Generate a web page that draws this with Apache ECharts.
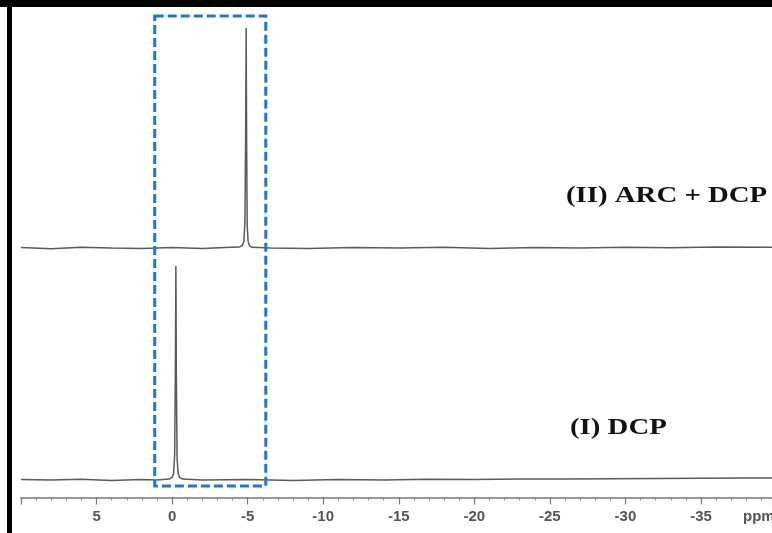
<!DOCTYPE html>
<html>
<head>
<meta charset="utf-8">
<script src="https://cdn.jsdelivr.net/npm/echarts@6/dist/echarts.min.js"></script>
<style>
html,body{margin:0;padding:0;background:#fff;}
#chart{width:772px;height:533px;}
</style>
</head>
<body>
<div id="chart"></div>
<script>
// ppm axis (left edge 10 ppm, right edge -39.7 ppm)
var ppmMin = -39.7;
var ppmMax = 10;
var tickLabels = ['5', '0', '-5', '-10', '-15', '-20', '-25', '-30', '-35'];

// (II) ARC + DCP, [ppm, relative intensity]
var arcDcp = [
  [10, 0.002], [8, -0.003], [6, 0.003], [4, 0], [2, -0.002], [0, 0.002],
  [-2, -0.002], [-3.5, 0.002], [-4.45, 0.004], [-4.65, 0.012], [-4.75, 0.03],
  [-4.82, 0.12], [-4.87, 0.55], [-4.9, 1.0], [-4.93, 0.5], [-4.97, 0.1],
  [-5.03, 0.03], [-5.12, 0.01], [-5.3, 0.003], [-6.5, 0], [-9, -0.002],
  [-12, 0.002], [-15, 0], [-18, 0.003], [-21, -0.002], [-24, 0.002],
  [-27, 0], [-30, 0.003], [-33, 0.001], [-36, 0.004], [-39.7, 0.003]
];

// (I) DCP
var dcp = [
  [10, 0.002], [8, 0], [6, 0.003], [4, -0.002], [2, 0.002], [1, 0],
  [0.2, 0.004], [0.0, 0.012], [-0.1, 0.03], [-0.17, 0.12], [-0.22, 0.55],
  [-0.25, 1.0], [-0.28, 0.5], [-0.33, 0.1], [-0.4, 0.03], [-0.5, 0.012],
  [-0.7, 0.004], [-2, 0], [-5, 0.002], [-8, -0.002], [-11, 0.002], [-14, 0],
  [-17, 0.003], [-20, 0.002], [-23, 0.004], [-26, 0.005], [-29, 0.006],
  [-32, 0.007], [-35, 0.008], [-38, 0.009], [-39.7, 0.009]
];

// highlighted region
var boxFrom = 1.15;
var boxTo = -6.2;

var lineColor = '#5a5a5a';

var chart = echarts.init(document.getElementById('chart'));

var option = {
  backgroundColor: '#fff',
  animation: false,
  grid: [
    { left: 21, top: 28, right: 0, height: 231 },
    { left: 21, top: 266, right: 0, height: 231.5 }
  ],
  xAxis: [
    {
      gridIndex: 0, type: 'value', min: ppmMin, max: ppmMax, inverse: true,
      show: false
    },
    {
      gridIndex: 1, type: 'value', min: ppmMin, max: ppmMax, inverse: true,
      splitNumber: 10, minInterval: 5, maxInterval: 5,
      axisLine: { show: true, onZero: false, lineStyle: { color: '#777', width: 1.5 } },
      axisTick: { show: true, length: 7, lineStyle: { color: '#777', width: 1.2 } },
      minorTick: { show: true, splitNumber: 5, length: 3, lineStyle: { color: '#888', width: 1 } },
      splitLine: { show: false },
      axisLabel: {
        margin: 12,
        color: '#555',
        fontFamily: 'Liberation Sans',
        fontWeight: 'bold',
        fontSize: 15,
        showMinLabel: false,
        showMaxLabel: false,
        formatter: function (v) {
          var s = String(v);
          return tickLabels.indexOf(s) >= 0 ? s : '';
        }
      }
    }
  ],
  yAxis: [
    { gridIndex: 0, type: 'value', min: -0.05, max: 1, show: false },
    { gridIndex: 1, type: 'value', min: -0.082, max: 1, show: false }
  ],
  series: [
    {
      name: '(II) ARC + DCP', type: 'line', xAxisIndex: 0, yAxisIndex: 0,
      data: arcDcp, showSymbol: false, clip: false,
      lineStyle: { color: lineColor, width: 1.5 }
    },
    {
      name: '(I) DCP', type: 'line', xAxisIndex: 1, yAxisIndex: 1,
      data: dcp, showSymbol: false, clip: false,
      lineStyle: { color: lineColor, width: 1.5 }
    }
  ]
};

chart.setOption(option);

// dashed box, frame and labels placed from the axes
var x1 = chart.convertToPixel({ xAxisIndex: 1 }, boxFrom);
var x2 = chart.convertToPixel({ xAxisIndex: 1 }, boxTo);
var yTop = chart.convertToPixel({ yAxisIndex: 0 }, 1.055);
var yBot = chart.convertToPixel({ yAxisIndex: 1 }, -0.028);

chart.setOption({
  graphic: [
    { type: 'rect', shape: { x: 0, y: 0, width: 772, height: 7 }, style: { fill: '#000' } },
    { type: 'rect', shape: { x: 7, y: 0, width: 5, height: 533 }, style: { fill: '#000' } },
    {
      type: 'rect', z: 10,
      shape: { x: x1, y: yTop, width: x2 - x1, height: yBot - yTop },
      style: { fill: 'none', stroke: '#1a78d3', lineWidth: 3, lineDash: [9, 4] }
    },
    {
      type: 'text', x: 566, y: 184, scaleX: 1.2,
      style: { text: '(II) ARC + DCP', font: 'bold 24px "Liberation Serif"', fill: '#111' }
    },
    {
      type: 'text', x: 570, y: 416, scaleX: 1.2,
      style: { text: '(I) DCP', font: 'bold 24px "Liberation Serif"', fill: '#111' }
    },
    {
      type: 'text', x: 743, y: 509,
      style: { text: 'ppm', font: 'bold 15px "Liberation Sans"', fill: '#555' }
    }
  ]
});
</script>
</body>
</html>
